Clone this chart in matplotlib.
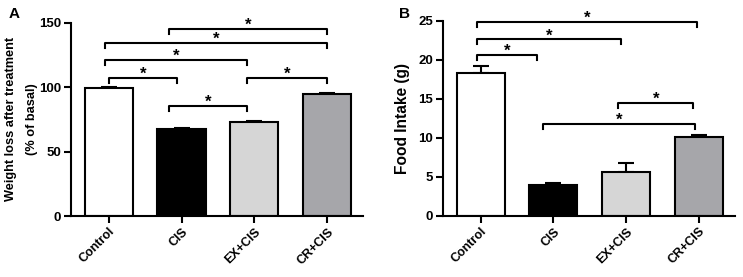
import matplotlib
matplotlib.use("Agg")
import matplotlib.pyplot as plt
import numpy as np

plt.rcParams['font.family'] = ['Liberation Sans', 'DejaVu Sans']
plt.rcParams['font.weight'] = 'bold'

categories = ["Control", "CIS", "EX+CIS", "CR+CIS"]
colors = ["#ffffff", "#000000", "#d6d6d6", "#a6a6aa"]

weight_vals = [99.3, 67.5, 72.8, 94.8]
weight_err = [0.6, 0.8, 1.2, 0.8]
food_vals = [18.3, 3.9, 5.6, 10.1]
food_err = [0.9, 0.35, 1.1, 0.3]

# brackets: (x_start, x_end, y)
weight_brackets = [(0.825, 3.0, 144.8), (-0.055, 3.0, 134.5), (-0.055, 1.9, 121.0),
                   (0.0, 0.935, 106.8), (1.9, 3.0, 106.8), (0.825, 1.9, 85.3)]
food_brackets = [(-0.045, 2.97, 24.8), (-0.045, 1.93, 22.6), (-0.045, 0.78, 20.6),
                 (1.89, 2.92, 14.5), (0.855, 2.95, 11.75)]

fig = plt.figure(figsize=(7.43, 2.77), dpi=100)
axA = fig.add_axes([0.0952, 0.2202, 0.3934, 0.698])
axB = fig.add_axes([0.5958, 0.2213, 0.3932, 0.704])


def draw(ax, vals, errs, brackets, ymax, yticks, ylabel, ylsize, tick_px, star_off, lsp):
    x = np.arange(len(categories))
    ax.bar(x, vals, width=0.66, color=colors, edgecolor="black", linewidth=1.5, zorder=2)
    ax.errorbar(x, vals, yerr=[np.zeros(len(vals)), errs], fmt="none", ecolor="black",
                elinewidth=1.5, capsize=6, capthick=1.5, zorder=1)
    ax.set_xlim(-0.52, 3.49)
    ax.set_ylim(0, ymax)
    ax.set_yticks(yticks)
    ax.set_xticks(x)
    ax.set_xticklabels(categories, rotation=45, ha="right", rotation_mode="anchor",
                       fontsize=9, fontweight="bold")
    for lab in ax.get_yticklabels():
        lab.set_fontsize(9.5)
        lab.set_fontweight("bold")
    ax.spines["top"].set_visible(False)
    ax.spines["right"].set_visible(False)
    ax.spines["left"].set_linewidth(1.5)
    ax.spines["bottom"].set_linewidth(1.5)
    ax.tick_params(width=1.5, length=5, pad=2)
    ax.set_ylabel(ylabel, fontsize=ylsize, fontweight="bold", linespacing=lsp)
    ax.yaxis.set_label_coords(-0.112, 0.5)
    tick_h = tick_px * ymax / 195.0
    for (x0, x1, y) in brackets:
        ax.plot([x0, x0, x1, x1], [y - tick_h, y, y, y - tick_h], color="black",
                linewidth=1.5, clip_on=False, zorder=3)
        ax.text((x0 + x1) / 2, y + star_off, "*", ha="center", va="bottom",
                fontsize=12, fontweight="bold", clip_on=False)


draw(axA, weight_vals, weight_err, weight_brackets, 150, [0, 50, 100, 150],
     "Weight loss after treatment\n(% of basal)", 9.2, 5, -3.0, 2.0)
draw(axB, food_vals, food_err, food_brackets, 25, [0, 5, 10, 15, 20, 25],
     "Food Intake (g)", 11.2, 5, -0.5, 1.2)

fig.text(0.011, 0.975, "A", fontsize=11, fontweight="bold", va="top", ha="left")
fig.text(0.537, 0.975, "B", fontsize=11, fontweight="bold", va="top", ha="left")

fig.savefig("out.png", dpi=100)
